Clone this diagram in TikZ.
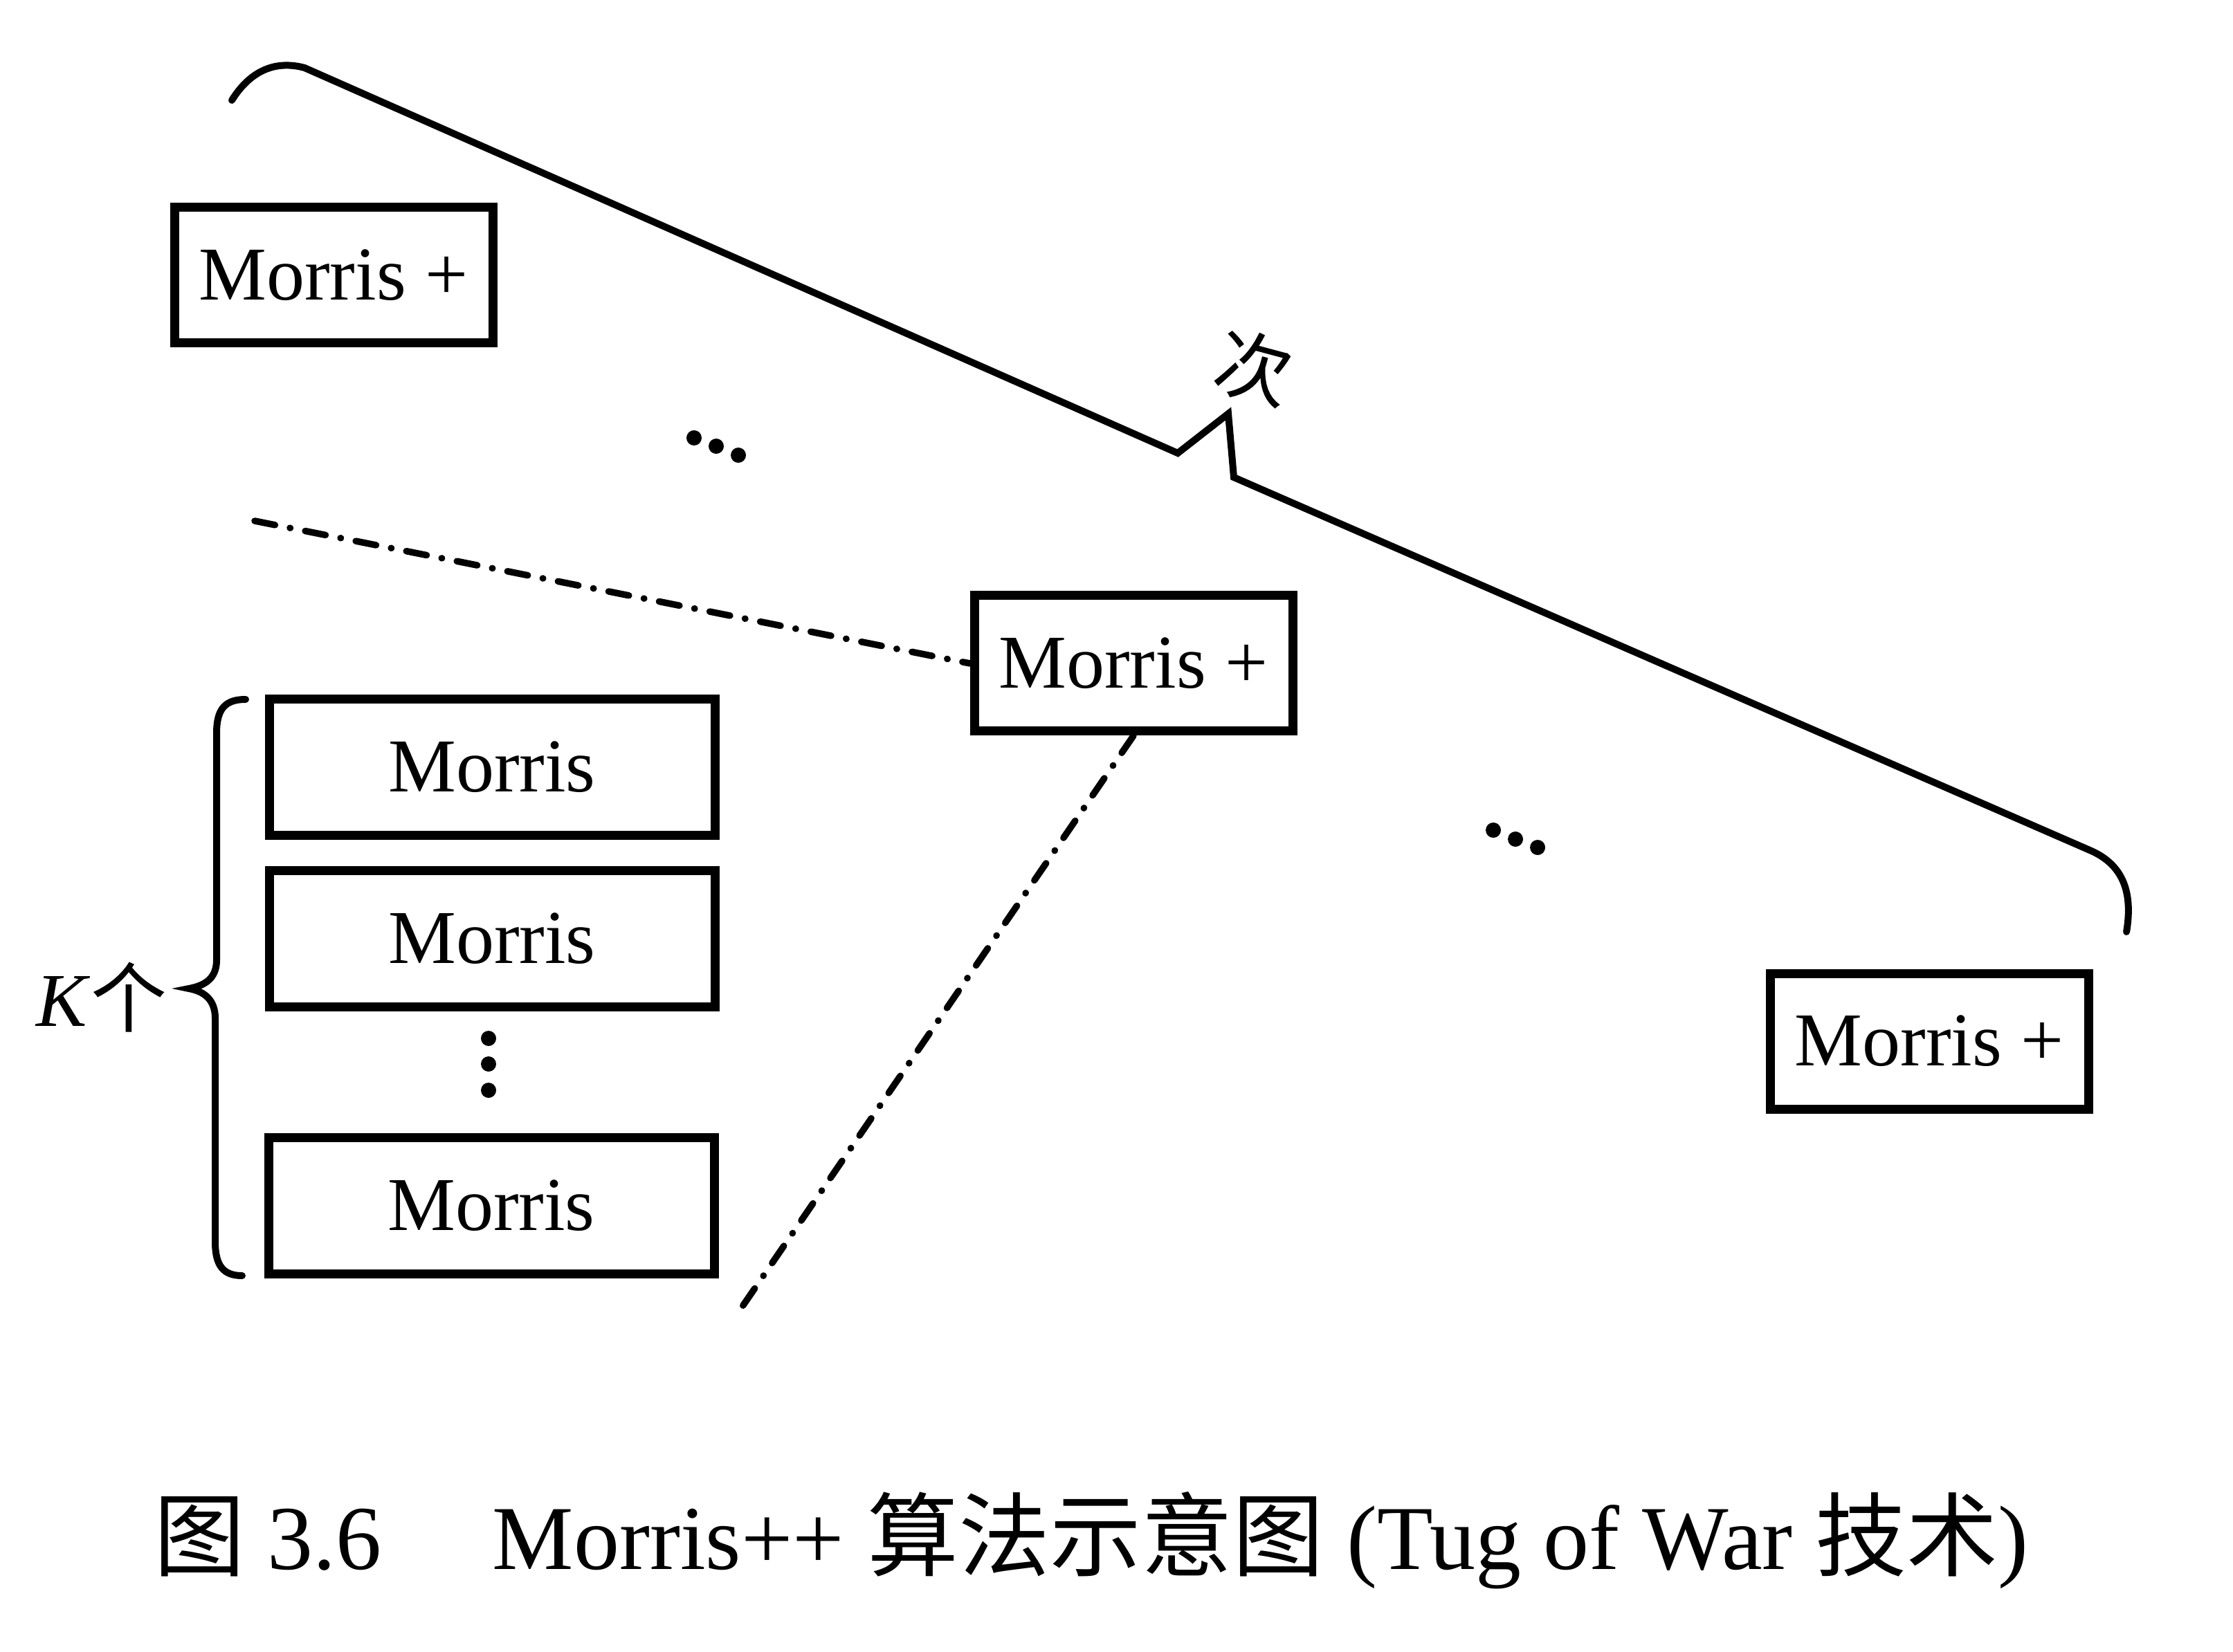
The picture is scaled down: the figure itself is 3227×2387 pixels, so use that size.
\documentclass[tikz,border=0pt]{standalone}
\usepackage{fontspec}
\setmainfont{Liberation Serif}
\newfontfamily\cjk{Noto Sans CJK SC}
\begin{document}
\begin{tikzpicture}[x=0.1pt,y=-0.1pt,
  mplus/.style={draw, line width=1.3pt, minimum width=46pt, minimum height=19.6pt, inner sep=0pt, font=\fontsize{11pt}{13pt}\selectfont},
  mbox/.style={draw, line width=1.3pt, minimum width=64.4pt, minimum height=19.7pt, inner sep=0pt, font=\fontsize{11pt}{13pt}\selectfont},
  bracel/.style={line width=1.0pt, line cap=round, line join=miter},
  dashdot/.style={line width=0.95pt, line cap=round, dash pattern=on 3.0pt off 2.2pt on 0.05pt off 2.2pt},
  dotmark/.style={fill=black},
  lab/.style={inner sep=0pt, font=\fontsize{11pt}{13pt}\selectfont}
]
\useasboundingbox (0,0) rectangle (3227,2387);

% boxes
\node[mplus] (mp1) at (482,398) {Morris +};
\node[mplus] (mp2) at (1638,959) {Morris +};
\node[mplus] (mp3) at (2788,1505) {Morris +};
\node[mbox] (m1) at (711,1109) {Morris};
\node[mbox] (m2) at (711,1357) {Morris};
\node[mbox] (m3) at (710,1743) {Morris};

% vertical dots
\fill[dotmark] (706,1501) circle[radius=1.1pt];
\fill[dotmark] (706,1538) circle[radius=1.1pt];
\fill[dotmark] (706,1576) circle[radius=1.1pt];

% diagonal dots
\fill[dotmark] (1003,633) circle[radius=1.1pt];
\fill[dotmark] (1035,645) circle[radius=1.1pt];
\fill[dotmark] (1067,658) circle[radius=1.1pt];
\fill[dotmark] (2158,1200) circle[radius=1.1pt];
\fill[dotmark] (2190,1213) circle[radius=1.1pt];
\fill[dotmark] (2222,1225) circle[radius=1.1pt];

% big slanted brace
\draw[bracel] (335,145) .. controls (360,105) and (395,86) .. (440,98)
  -- (1702,655) -- (1775,598) -- (1783,690) -- (3020,1229)
  .. controls (3062,1247) and (3084,1282) .. (3073,1347);
\node[lab, font=\fontsize{11pt}{13pt}\selectfont\cjk, rotate=-15] (ci) at (1812,532) {次};

% K brace
\draw[bracel] (355,1011) .. controls (325,1011) and (313,1025) .. (313,1060)
  -- (313,1388) .. controls (313,1415) and (295,1425) .. (273,1429)
  .. controls (295,1433) and (311,1445) .. (311,1472)
  -- (311,1795) .. controls (311,1830) and (323,1844) .. (350,1844);
\node[lab] (klab) at (147,1442) {\textit{K}{\cjk 个}};

% dash-dot connectors
\coordinate (dd1) at (368,753);
\coordinate (dd2) at (1067,1897);
\draw[dashdot] (dd1) -- (mp2.west);
\draw[dashdot] (mp2.south) -- (dd2);

% caption
\node[anchor=base west, inner sep=0pt, font=\fontsize{13.2pt}{15pt}\selectfont] (cap) at (220,2268)
  {{\cjk 图} 3.6\hspace{16pt}Morris++ {\cjk 算法示意图} (Tug of War {\cjk 技术})};
\end{tikzpicture}
\end{document}
